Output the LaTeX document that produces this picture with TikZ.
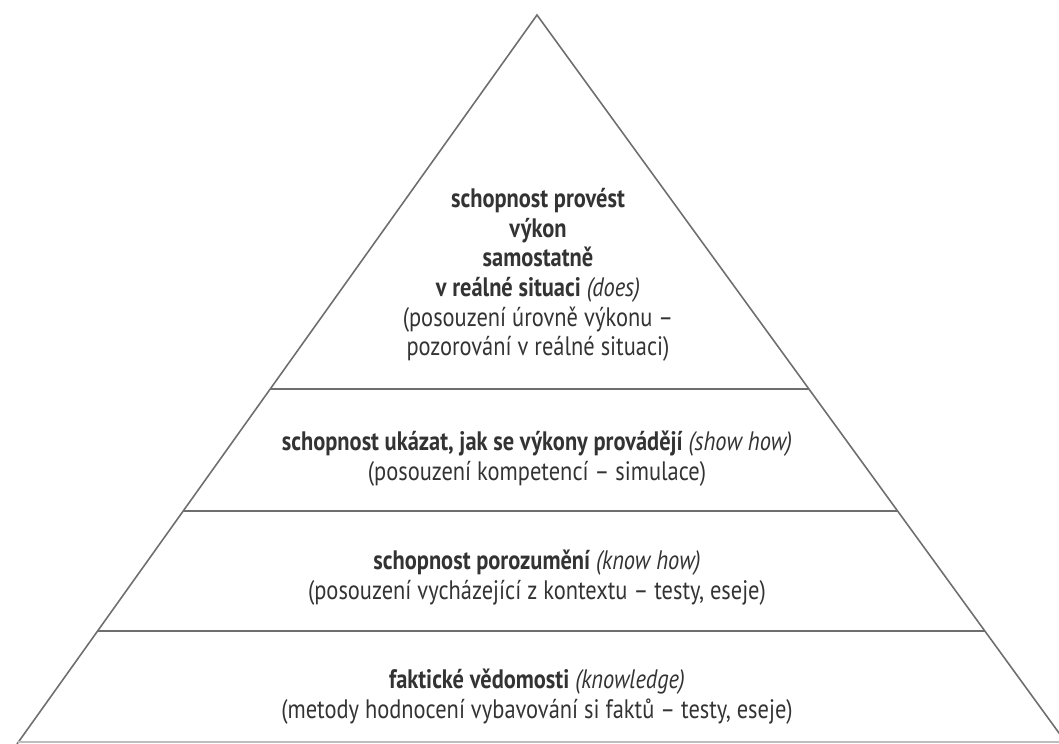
\documentclass[tikz,border=0pt]{standalone}
\usepackage{fontspec}
\setmainfont{PT Sans}[FakeStretch=0.84]
\definecolor{txt}{HTML}{333333}
\definecolor{ln}{HTML}{6E6E6E}
\begin{document}
\begin{tikzpicture}[x=0.02cm,y=-0.02cm,
  edge/.style={draw=ln,line width=0.9pt},
  base/.style={draw=ln!45,line width=0.9pt},
  label/.style={text=txt,align=center,font=\fontsize{15.2}{16.9}\selectfont,inner sep=0pt}]
\useasboundingbox (0,0) rectangle (1059,744);
\begin{scope}
\clip (0,0) rectangle (1059,744);
\coordinate (A) at (537,15);
\coordinate (BL) at (17,744);
\coordinate (BR) at (1067,744);
\coordinate (l1) at (270,389);
\coordinate (r1) at (809,389);
\coordinate (l2) at (183,511);
\coordinate (r2) at (898,511);
\coordinate (l3) at (98,631);
\coordinate (r3) at (985,631);
\coordinate (bl) at (18,742);
\coordinate (br) at (1059,742);
\draw[edge] (BL) -- (A) -- (BR);
\draw[edge] (l1) -- (r1);
\draw[edge] (l2) -- (r2);
\draw[edge] (l3) -- (r3);
\draw[base] (bl) -- (br);
\end{scope}
\node[label] (t1) at (538,275) {\textbf{schopnost provést}\\\textbf{výkon}\\\textbf{samostatně}\\\textbf{v reálné situaci} \textit{(does)}\\(posouzení úrovně výkonu –\\pozorování v reálné situaci)};
\node[label] (t2) at (537,459) {\textbf{schopnost ukázat, jak se výkony provádějí} \textit{(show how)}\\(posouzení kompetencí – simulace)};
\node[label] (t3) at (537,578) {\textbf{schopnost porozumění} \textit{(know how)}\\(posouzení vycházející z kontextu – testy, eseje)};
\node[label] (t4) at (537,697) {\textbf{faktické vědomosti} \textit{(knowledge)}\\(metody hodnocení vybavování si faktů – testy, eseje)};
\end{tikzpicture}
\end{document}
